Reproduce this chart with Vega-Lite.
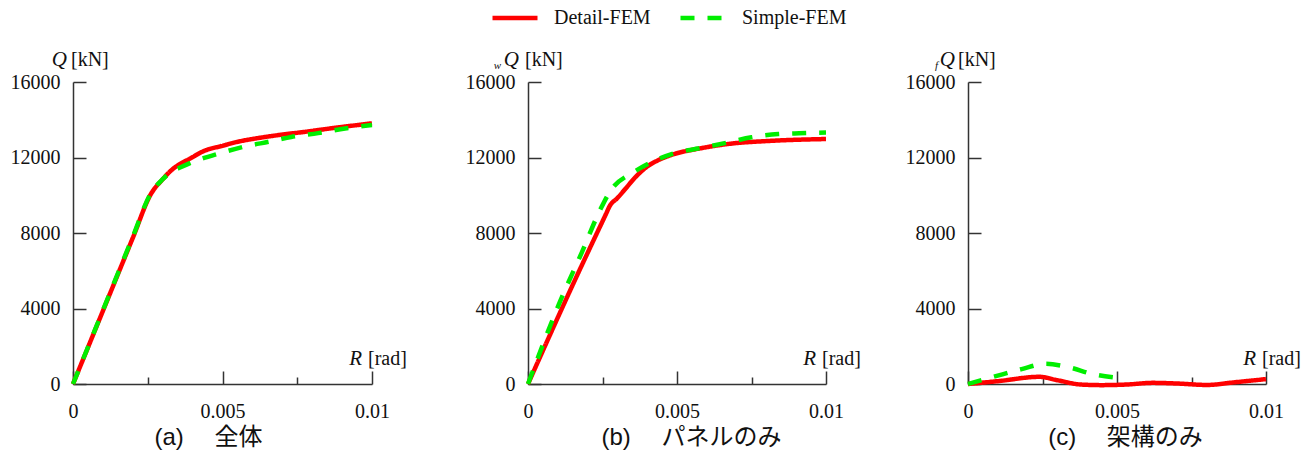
{
  "$schema": "https://vega.github.io/schema/vega-lite/v6.json",
  "background": "white",
  "padding": {"left": 10, "top": -7, "right": 6, "bottom": 4},
  "bounds": "flush",
  "spacing": 156,
  "datasets": {
    "curves": [
      {"panel": "a", "series": "Detail-FEM", "R": 0, "Q": 0},
      {"panel": "a", "series": "Detail-FEM", "R": 0.001, "Q": 3870},
      {"panel": "a", "series": "Detail-FEM", "R": 0.002, "Q": 7740},
      {"panel": "a", "series": "Detail-FEM", "R": 0.0026, "Q": 10050},
      {"panel": "a", "series": "Detail-FEM", "R": 0.003, "Q": 10850},
      {"panel": "a", "series": "Detail-FEM", "R": 0.0033, "Q": 11340},
      {"panel": "a", "series": "Detail-FEM", "R": 0.0036, "Q": 11680},
      {"panel": "a", "series": "Detail-FEM", "R": 0.0039, "Q": 11930},
      {"panel": "a", "series": "Detail-FEM", "R": 0.0044, "Q": 12360},
      {"panel": "a", "series": "Detail-FEM", "R": 0.005, "Q": 12620},
      {"panel": "a", "series": "Detail-FEM", "R": 0.0055, "Q": 12830},
      {"panel": "a", "series": "Detail-FEM", "R": 0.006, "Q": 12980},
      {"panel": "a", "series": "Detail-FEM", "R": 0.0067, "Q": 13150},
      {"panel": "a", "series": "Detail-FEM", "R": 0.0078, "Q": 13370},
      {"panel": "a", "series": "Detail-FEM", "R": 0.0089, "Q": 13600},
      {"panel": "a", "series": "Detail-FEM", "R": 0.01, "Q": 13810},
      {"panel": "a", "series": "Simple-FEM", "R": 0, "Q": 0},
      {"panel": "a", "series": "Simple-FEM", "R": 0.001, "Q": 3900},
      {"panel": "a", "series": "Simple-FEM", "R": 0.002, "Q": 7800},
      {"panel": "a", "series": "Simple-FEM", "R": 0.0026, "Q": 10100},
      {"panel": "a", "series": "Simple-FEM", "R": 0.003, "Q": 10850},
      {"panel": "a", "series": "Simple-FEM", "R": 0.0033, "Q": 11250},
      {"panel": "a", "series": "Simple-FEM", "R": 0.0036, "Q": 11480},
      {"panel": "a", "series": "Simple-FEM", "R": 0.004, "Q": 11760},
      {"panel": "a", "series": "Simple-FEM", "R": 0.0049, "Q": 12220},
      {"panel": "a", "series": "Simple-FEM", "R": 0.0058, "Q": 12600},
      {"panel": "a", "series": "Simple-FEM", "R": 0.0066, "Q": 12850},
      {"panel": "a", "series": "Simple-FEM", "R": 0.0073, "Q": 13090},
      {"panel": "a", "series": "Simple-FEM", "R": 0.0082, "Q": 13290},
      {"panel": "a", "series": "Simple-FEM", "R": 0.0091, "Q": 13540},
      {"panel": "a", "series": "Simple-FEM", "R": 0.01, "Q": 13720},
      {"panel": "b", "series": "Detail-FEM", "R": 0, "Q": 0},
      {"panel": "b", "series": "Detail-FEM", "R": 0.0015, "Q": 5250},
      {"panel": "b", "series": "Detail-FEM", "R": 0.0026, "Q": 8950},
      {"panel": "b", "series": "Detail-FEM", "R": 0.00275, "Q": 9450},
      {"panel": "b", "series": "Detail-FEM", "R": 0.003, "Q": 9850},
      {"panel": "b", "series": "Detail-FEM", "R": 0.0033, "Q": 10400},
      {"panel": "b", "series": "Detail-FEM", "R": 0.0036, "Q": 10950},
      {"panel": "b", "series": "Detail-FEM", "R": 0.004, "Q": 11520},
      {"panel": "b", "series": "Detail-FEM", "R": 0.0044, "Q": 11880},
      {"panel": "b", "series": "Detail-FEM", "R": 0.0048, "Q": 12130},
      {"panel": "b", "series": "Detail-FEM", "R": 0.0058, "Q": 12490},
      {"panel": "b", "series": "Detail-FEM", "R": 0.0069, "Q": 12750},
      {"panel": "b", "series": "Detail-FEM", "R": 0.008, "Q": 12870},
      {"panel": "b", "series": "Detail-FEM", "R": 0.01, "Q": 12980},
      {"panel": "b", "series": "Simple-FEM", "R": 0, "Q": 0},
      {"panel": "b", "series": "Simple-FEM", "R": 0.00107, "Q": 4350},
      {"panel": "b", "series": "Simple-FEM", "R": 0.0018, "Q": 6950},
      {"panel": "b", "series": "Simple-FEM", "R": 0.00242, "Q": 9220},
      {"panel": "b", "series": "Simple-FEM", "R": 0.00275, "Q": 10190},
      {"panel": "b", "series": "Simple-FEM", "R": 0.0029, "Q": 10500},
      {"panel": "b", "series": "Simple-FEM", "R": 0.0035, "Q": 11180},
      {"panel": "b", "series": "Simple-FEM", "R": 0.0041, "Q": 11720},
      {"panel": "b", "series": "Simple-FEM", "R": 0.0049, "Q": 12220},
      {"panel": "b", "series": "Simple-FEM", "R": 0.0058, "Q": 12500},
      {"panel": "b", "series": "Simple-FEM", "R": 0.0066, "Q": 12760},
      {"panel": "b", "series": "Simple-FEM", "R": 0.0075, "Q": 13070},
      {"panel": "b", "series": "Simple-FEM", "R": 0.0084, "Q": 13240},
      {"panel": "b", "series": "Simple-FEM", "R": 0.0091, "Q": 13285},
      {"panel": "b", "series": "Simple-FEM", "R": 0.01, "Q": 13320},
      {"panel": "c", "series": "Detail-FEM", "R": 0, "Q": 0},
      {"panel": "c", "series": "Detail-FEM", "R": 0.001, "Q": 150},
      {"panel": "c", "series": "Detail-FEM", "R": 0.0024, "Q": 380},
      {"panel": "c", "series": "Detail-FEM", "R": 0.003, "Q": 200},
      {"panel": "c", "series": "Detail-FEM", "R": 0.0038, "Q": -30},
      {"panel": "c", "series": "Detail-FEM", "R": 0.0045, "Q": -60},
      {"panel": "c", "series": "Detail-FEM", "R": 0.0053, "Q": -30},
      {"panel": "c", "series": "Detail-FEM", "R": 0.0062, "Q": 60},
      {"panel": "c", "series": "Detail-FEM", "R": 0.0071, "Q": 20},
      {"panel": "c", "series": "Detail-FEM", "R": 0.008, "Q": -50},
      {"panel": "c", "series": "Detail-FEM", "R": 0.009, "Q": 100},
      {"panel": "c", "series": "Detail-FEM", "R": 0.01, "Q": 260},
      {"panel": "c", "series": "Simple-FEM", "R": 0, "Q": 0},
      {"panel": "c", "series": "Simple-FEM", "R": 0.0009, "Q": 400},
      {"panel": "c", "series": "Simple-FEM", "R": 0.0018, "Q": 790},
      {"panel": "c", "series": "Simple-FEM", "R": 0.0026, "Q": 1070},
      {"panel": "c", "series": "Simple-FEM", "R": 0.0034, "Q": 880},
      {"panel": "c", "series": "Simple-FEM", "R": 0.0042, "Q": 520},
      {"panel": "c", "series": "Simple-FEM", "R": 0.005, "Q": 330}
    ]
  },
  "hconcat": [
    {
      "width": 299, "height": 302,
      "layer": [
        {
          "data": {"name": "curves"},
          "transform": [{"filter": "datum.panel === 'a'"}],
          "mark": {"type": "line", "strokeWidth": 4.5, "interpolate": "monotone"},
          "encoding": {
            "x": {"field": "R", "type": "quantitative", "scale": {"domain": [0, 0.01], "nice": false, "zero": false},
              "axis": {"title": "(a) 　全体", "titleX": 135, "values": [0, 0.0025, 0.005, 0.0075, 0.01],
                "labelExpr": "datum.value === 0 ? '0' : datum.value === 0.005 ? '0.005' : datum.value === 0.01 ? '0.01' : ''",
                "tickSize": {"condition": {"test": "datum.value === 0 || datum.value === 0.005 || datum.value === 0.01", "value": -13}, "value": -7},
                "labelPadding": 30, "titlePadding": 4}},
            "y": {"field": "Q", "type": "quantitative", "scale": {"domain": [0, 16000], "nice": false},
              "axis": {"title": null, "values": [0, 2000, 4000, 6000, 8000, 10000, 12000, 14000, 16000],
                "labelExpr": "datum.value % 4000 === 0 ? format(datum.value, 'd') : ''",
                "tickSize": {"condition": {"test": "datum.value % 4000 === 0", "value": -13}, "value": -7},
                "labelPadding": 26}},
            "color": {"field": "series", "type": "nominal", "scale": {"domain": ["Detail-FEM", "Simple-FEM"], "range": ["#ff0000", "#00ee00"]}},
            "strokeDash": {"field": "series", "type": "nominal", "scale": {"domain": ["Detail-FEM", "Simple-FEM"], "range": [[1, 0], [14, 13]]}}
          }
        },
        {"data": {"values": [{}]}, "mark": {"type": "text", "text": "Q", "font": "Liberation Serif", "fontStyle": "italic", "fontSize": 21, "align": "right", "baseline": "alphabetic", "dx": -6, "dy": -16, "color": "#111"},
          "encoding": {"x": {"datum": 0}, "y": {"datum": 16000}}},
        {"data": {"values": [{}]}, "mark": {"type": "text", "text": "[kN]", "font": "Liberation Serif", "fontSize": 20, "align": "left", "baseline": "alphabetic", "dx": -2, "dy": -16, "color": "#111"},
          "encoding": {"x": {"datum": 0}, "y": {"datum": 16000}}},
        {"data": {"values": [{}]}, "mark": {"type": "text", "text": "R", "font": "Liberation Serif", "fontStyle": "italic", "fontSize": 21, "align": "right", "baseline": "alphabetic", "dx": -10, "dy": -19, "color": "#111"},
          "encoding": {"x": {"datum": 0.01}, "y": {"datum": 0}}},
        {"data": {"values": [{}]}, "mark": {"type": "text", "text": "[rad]", "font": "Liberation Serif", "fontSize": 20, "align": "left", "baseline": "alphabetic", "dx": -4, "dy": -19, "color": "#111"},
          "encoding": {"x": {"datum": 0.01}, "y": {"datum": 0}}}
      ]
    },
    {
      "bounds": "flush",
      "spacing": 142,
      "hconcat": [
        {
          "width": 298, "height": 302,
          "layer": [
            {
              "data": {"name": "curves"},
              "transform": [{"filter": "datum.panel === 'b'"}],
              "mark": {"type": "line", "strokeWidth": 4.5, "interpolate": "monotone"},
              "encoding": {
                "x": {"field": "R", "type": "quantitative", "scale": {"domain": [0, 0.01], "nice": false, "zero": false},
                  "axis": {"title": "(b) 　パネルのみ", "titleX": 163, "values": [0, 0.0025, 0.005, 0.0075, 0.01],
                    "labelExpr": "datum.value === 0 ? '0' : datum.value === 0.005 ? '0.005' : datum.value === 0.01 ? '0.01' : ''",
                    "tickSize": {"condition": {"test": "datum.value === 0 || datum.value === 0.005 || datum.value === 0.01", "value": -13}, "value": -7},
                    "labelPadding": 30, "titlePadding": 4}},
                "y": {"field": "Q", "type": "quantitative", "scale": {"domain": [0, 16000], "nice": false},
                  "axis": {"title": null, "values": [0, 2000, 4000, 6000, 8000, 10000, 12000, 14000, 16000],
                    "labelExpr": "datum.value % 4000 === 0 ? format(datum.value, 'd') : ''",
                    "tickSize": {"condition": {"test": "datum.value % 4000 === 0", "value": -13}, "value": -7},
                    "labelPadding": 26}},
                "color": {"field": "series", "type": "nominal", "scale": {"domain": ["Detail-FEM", "Simple-FEM"], "range": ["#ff0000", "#00ee00"]}},
                "strokeDash": {"field": "series", "type": "nominal", "scale": {"domain": ["Detail-FEM", "Simple-FEM"], "range": [[1, 0], [14, 13]]}}
              }
            },
            {"data": {"values": [{}]}, "mark": {"type": "text", "text": "w", "font": "Liberation Serif", "fontStyle": "italic", "fontSize": 11, "align": "right", "baseline": "alphabetic", "dx": -27, "dy": -13, "color": "#111"},
              "encoding": {"x": {"datum": 0}, "y": {"datum": 16000}}},
            {"data": {"values": [{}]}, "mark": {"type": "text", "text": "Q", "font": "Liberation Serif", "fontStyle": "italic", "fontSize": 21, "align": "right", "baseline": "alphabetic", "dx": -9, "dy": -16, "color": "#111"},
              "encoding": {"x": {"datum": 0}, "y": {"datum": 16000}}},
            {"data": {"values": [{}]}, "mark": {"type": "text", "text": "[kN]", "font": "Liberation Serif", "fontSize": 20, "align": "left", "baseline": "alphabetic", "dx": -3, "dy": -16, "color": "#111"},
              "encoding": {"x": {"datum": 0}, "y": {"datum": 16000}}},
            {"data": {"values": [{}]}, "mark": {"type": "text", "text": "R", "font": "Liberation Serif", "fontStyle": "italic", "fontSize": 21, "align": "right", "baseline": "alphabetic", "dx": -10, "dy": -19, "color": "#111"},
              "encoding": {"x": {"datum": 0.01}, "y": {"datum": 0}}},
            {"data": {"values": [{}]}, "mark": {"type": "text", "text": "[rad]", "font": "Liberation Serif", "fontSize": 20, "align": "left", "baseline": "alphabetic", "dx": -4, "dy": -19, "color": "#111"},
              "encoding": {"x": {"datum": 0.01}, "y": {"datum": 0}}}
          ]
        },
        {
          "width": 298, "height": 302,
          "layer": [
            {
              "data": {"name": "curves"},
              "transform": [{"filter": "datum.panel === 'c'"}],
              "mark": {"type": "line", "strokeWidth": 4.5, "interpolate": "monotone"},
              "encoding": {
                "x": {"field": "R", "type": "quantitative", "scale": {"domain": [0, 0.01], "nice": false, "zero": false},
                  "axis": {"title": "(c) 　架構のみ", "titleX": 157, "values": [0, 0.0025, 0.005, 0.0075, 0.01],
                    "labelExpr": "datum.value === 0 ? '0' : datum.value === 0.005 ? '0.005' : datum.value === 0.01 ? '0.01' : ''",
                    "tickSize": {"condition": {"test": "datum.value === 0 || datum.value === 0.005 || datum.value === 0.01", "value": -13}, "value": -7},
                    "labelPadding": 30, "titlePadding": 4}},
                "y": {"field": "Q", "type": "quantitative", "scale": {"domain": [0, 16000], "nice": false},
                  "axis": {"title": null, "values": [0, 2000, 4000, 6000, 8000, 10000, 12000, 14000, 16000],
                    "labelExpr": "datum.value % 4000 === 0 ? format(datum.value, 'd') : ''",
                    "tickSize": {"condition": {"test": "datum.value % 4000 === 0", "value": -13}, "value": -7},
                    "labelPadding": 26}},
                "color": {"field": "series", "type": "nominal", "scale": {"domain": ["Detail-FEM", "Simple-FEM"], "range": ["#ff0000", "#00ee00"]}},
                "strokeDash": {"field": "series", "type": "nominal", "scale": {"domain": ["Detail-FEM", "Simple-FEM"], "range": [[1, 0], [14, 13]]}}
              }
            },
            {"data": {"values": [{}]}, "mark": {"type": "text", "text": "f", "font": "Liberation Serif", "fontStyle": "italic", "fontSize": 11, "align": "right", "baseline": "alphabetic", "dx": -30, "dy": -13, "color": "#111"},
              "encoding": {"x": {"datum": 0}, "y": {"datum": 16000}}},
            {"data": {"values": [{}]}, "mark": {"type": "text", "text": "Q", "font": "Liberation Serif", "fontStyle": "italic", "fontSize": 21, "align": "right", "baseline": "alphabetic", "dx": -13, "dy": -16, "color": "#111"},
              "encoding": {"x": {"datum": 0}, "y": {"datum": 16000}}},
            {"data": {"values": [{}]}, "mark": {"type": "text", "text": "[kN]", "font": "Liberation Serif", "fontSize": 20, "align": "left", "baseline": "alphabetic", "dx": -10, "dy": -16, "color": "#111"},
              "encoding": {"x": {"datum": 0}, "y": {"datum": 16000}}},
            {"data": {"values": [{}]}, "mark": {"type": "text", "text": "R", "font": "Liberation Serif", "fontStyle": "italic", "fontSize": 21, "align": "right", "baseline": "alphabetic", "dx": -10, "dy": -19, "color": "#111"},
              "encoding": {"x": {"datum": 0.01}, "y": {"datum": 0}}},
            {"data": {"values": [{}]}, "mark": {"type": "text", "text": "[rad]", "font": "Liberation Serif", "fontSize": 20, "align": "left", "baseline": "alphabetic", "dx": -4, "dy": -19, "color": "#111"},
              "encoding": {"x": {"datum": 0.01}, "y": {"datum": 0}}}
          ]
        }
      ]
    }
  ],
  "config": {
    "view": {"stroke": null},
    "axis": {
      "grid": false, "labelFlush": false,
      "domainColor": "#333", "domainWidth": 1.5,
      "tickColor": "#333", "tickWidth": 1.5,
      "labelFont": "Liberation Serif", "labelFontSize": 20, "labelColor": "#111",
      "titleFont": "Liberation Sans, Noto Sans CJK JP", "titleFontSize": 24, "titleFontWeight": "normal", "titleColor": "#111"
    },
    "legend": {
      "orient": "none", "legendX": 417, "legendY": -89, "direction": "horizontal", "title": null,
      "symbolType": "stroke", "symbolSize": 2025, "symbolStrokeWidth": 4.5,
      "labelFont": "Liberation Serif", "labelFontSize": 20, "labelColor": "#111",
      "columnPadding": 20, "labelOffset": 14, "padding": 0
    }
  }
}
